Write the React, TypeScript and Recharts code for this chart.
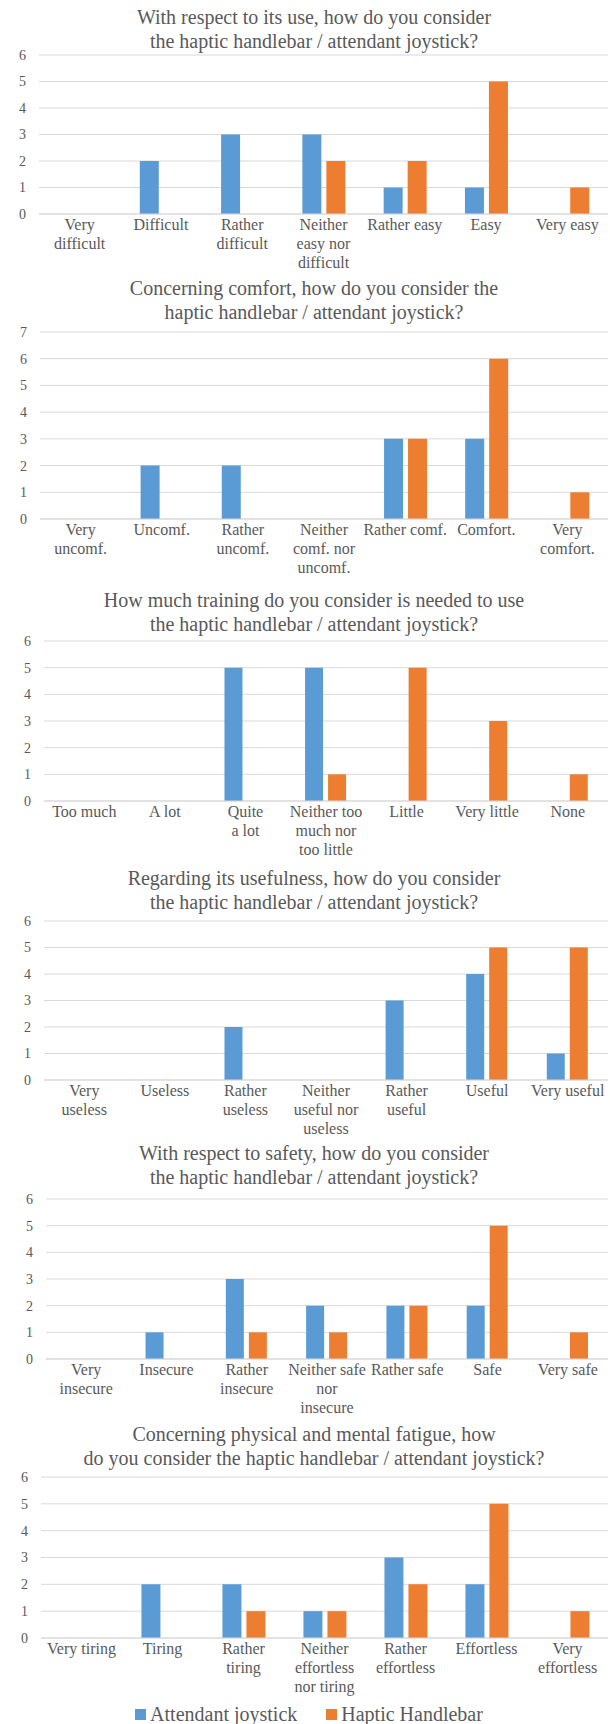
import React from "react";
import { BarChart, Bar, XAxis, YAxis, CartesianGrid } from "recharts";

const seriesNames = ["Attendant joystick", "Haptic Handlebar"];
const colors = ["#5B9BD5", "#ED7D31"];

const cats1 = ["Very\ndifficult", "Difficult", "Rather\ndifficult", "Neither\neasy nor\ndifficult", "Rather easy", "Easy", "Very easy"];
const joy1 = [0, 2, 3, 3, 1, 1, 0];
const hap1 = [0, 0, 0, 2, 2, 5, 1];

const cats2 = ["Very\nuncomf.", "Uncomf.", "Rather\nuncomf.", "Neither\ncomf. nor\nuncomf.", "Rather comf.", "Comfort.", "Very\ncomfort."];
const joy2 = [0, 2, 2, 0, 3, 3, 0];
const hap2 = [0, 0, 0, 0, 3, 6, 1];

const cats3 = ["Too much", "A lot", "Quite\na lot", "Neither too\nmuch nor\ntoo little", "Little", "Very little", "None"];
const joy3 = [0, 0, 5, 5, 0, 0, 0];
const hap3 = [0, 0, 0, 1, 5, 3, 1];

const cats4 = ["Very\nuseless", "Useless", "Rather\nuseless", "Neither\nuseful nor\nuseless", "Rather\nuseful", "Useful", "Very useful"];
const joy4 = [0, 0, 2, 0, 3, 4, 1];
const hap4 = [0, 0, 0, 0, 0, 5, 5];

const cats5 = ["Very\ninsecure", "Insecure", "Rather\ninsecure", "Neither safe\nnor\ninsecure", "Rather safe", "Safe", "Very safe"];
const joy5 = [0, 1, 3, 2, 2, 2, 0];
const hap5 = [0, 0, 1, 1, 2, 5, 1];

const cats6 = ["Very tiring", "Tiring", "Rather\ntiring", "Neither\neffortless\nnor tiring", "Rather\neffortless", "Effortless", "Very\neffortless"];
const joy6 = [0, 2, 2, 1, 3, 2, 0];
const hap6 = [0, 0, 1, 1, 2, 5, 1];

const titles = [
  ["With respect to its use, how do you consider", "the haptic handlebar / attendant joystick?"],
  ["Concerning comfort, how do you consider the", "haptic handlebar / attendant joystick?"],
  ["How much training do you consider is needed to use", "the haptic handlebar / attendant joystick?"],
  ["Regarding its usefulness, how do you consider", "the haptic handlebar / attendant joystick?"],
  ["With respect to safety, how do you consider", "the haptic handlebar / attendant joystick?"],
  ["Concerning physical and mental fatigue, how", "do you consider the haptic handlebar / attendant joystick?"],
];
const yMaxes = [6, 7, 6, 6, 6, 6];

const FONT = "'Liberation Serif', 'Times New Roman', serif";
const TEXT = "#595959";

const build = (cats: string[], a: number[], b: number[]) =>
  cats.map((c, i) => ({ cat: c, joy: a[i], hap: b[i] }));

const datasets = [
  build(cats1, joy1, hap1),
  build(cats2, joy2, hap2),
  build(cats3, joy3, hap3),
  build(cats4, joy4, hap4),
  build(cats5, joy5, hap5),
  build(cats6, joy6, hap6),
];

// layout: grid top, grid bottom, plot left, title line-1 center
const layout = [
  { top: 55, bottom: 214, left: 39, title: 17 },
  { top: 332, bottom: 519, left: 40, title: 288 },
  { top: 641, bottom: 801, left: 44, title: 600 },
  { top: 921, bottom: 1080, left: 44, title: 878 },
  { top: 1199, bottom: 1359, left: 46, title: 1153 },
  { top: 1477, bottom: 1638, left: 41, title: 1434 },
];

const XTick = (props: any) => {
  const { x, y, payload } = props;
  const lines = String(payload.value).split("\n");
  return (
    <text x={x} y={y} textAnchor="middle" fill={TEXT} fontSize={16} fontFamily={FONT}>
      {lines.map((l, i) => (
        <tspan key={i} x={x} y={y + 15.5 + i * 19}>
          {l}
        </tspan>
      ))}
    </text>
  );
};

const MARGIN_TOP = 10;
const XH = 70;

const Chart = ({ idx }: { idx: number }) => {
  const L = layout[idx];
  const plotH = L.bottom - L.top;
  const max = yMaxes[idx];
  const ticks = Array.from({ length: max + 1 }, (_, i) => i);
  return (
    <div style={{ position: "absolute", left: 0, top: L.top - MARGIN_TOP }}>
      <BarChart
        width={610}
        height={MARGIN_TOP + plotH + XH}
        data={datasets[idx]}
        margin={{ top: MARGIN_TOP, right: 2, left: 0, bottom: 0 }}
        barGap={5}
        barCategoryGap="24%"
      >
        <CartesianGrid vertical={false} stroke="#D9D9D9" strokeWidth={1} />
        <XAxis
          dataKey="cat"
          height={XH}
          interval={0}
          tickLine={false}
          tickSize={0}
          tickMargin={0}
          axisLine={{ stroke: "#D9D9D9" }}
          tick={<XTick />}
        />
        <YAxis
          width={L.left}
          domain={[0, max]}
          ticks={ticks}
          interval={0}
          axisLine={false}
          tickLine={false}
          tickSize={0}
          tickMargin={13}
          tick={{ fontSize: 14, fill: TEXT, fontFamily: FONT }}
        />
        <Bar dataKey="joy" name={seriesNames[0]} fill={colors[0]} isAnimationActive={false} />
        <Bar dataKey="hap" name={seriesNames[1]} fill={colors[1]} isAnimationActive={false} />
      </BarChart>
    </div>
  );
};

const Title = ({ idx }: { idx: number }) => {
  const L = layout[idx];
  return (
    <div
      style={{
        position: "absolute",
        left: 0,
        width: 628,
        top: L.title - 12,
        textAlign: "center",
        fontFamily: FONT,
        fontSize: 20,
        lineHeight: "24px",
        color: TEXT,
        whiteSpace: "nowrap",
      }}
    >
      <div>{titles[idx][0]}</div>
      <div>{titles[idx][1]}</div>
    </div>
  );
};

const Legend = () => (
  <div
    style={{
      position: "absolute",
      top: 1702,
      left: 0,
      width: 618,
      display: "flex",
      justifyContent: "center",
      alignItems: "center",
      fontFamily: FONT,
      fontSize: 20,
      lineHeight: "24px",
      color: TEXT,
    }}
  >
    {seriesNames.map((n, i) => (
      <div key={n} style={{ display: "flex", alignItems: "center", marginRight: i === 0 ? 29 : 0 }}>
        <span style={{ display: "inline-block", width: 11, height: 11, background: colors[i], marginRight: 4 }} />
        <span>{n}</span>
      </div>
    ))}
  </div>
);

export default function App() {
  return (
    <div style={{ position: "absolute", left: 0, top: 0, width: 610, height: 1724, background: "#fff", overflow: "hidden" }}>
      {layout.map((_, i) => (
        <React.Fragment key={i}>
          <Chart idx={i} />
          <Title idx={i} />
        </React.Fragment>
      ))}
      <Legend />
    </div>
  );
}
